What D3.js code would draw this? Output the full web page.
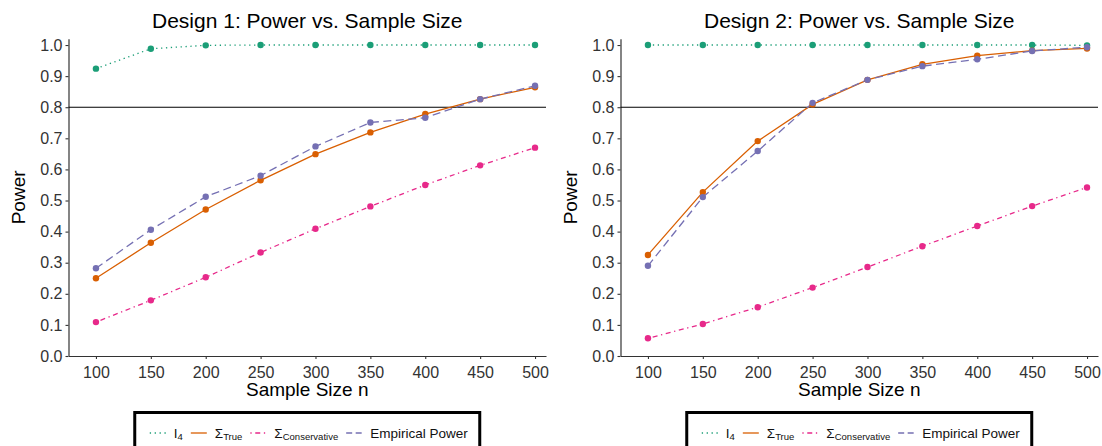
<!DOCTYPE html>
<html>
<head>
<meta charset="utf-8">
<script src="https://cdn.jsdelivr.net/npm/d3@7"></script>
<style>
  body { margin: 0; background: #fff; }
  svg { display: block; font-family: "Liberation Sans", Arial, sans-serif; }
</style>
</head>
<body>
<script>
// sample sizes on the x axis
var sampleSizes = [100, 150, 200, 250, 300, 350, 400, 450, 500];

// design 1
var d1I4 = [0.924, 0.988, 0.999, 1.0, 1.0, 1.0, 1.0, 1.0, 1.0];
var d1True = [0.250, 0.364, 0.471, 0.565, 0.649, 0.719, 0.778, 0.826, 0.864];
var d1Cons = [0.109, 0.179, 0.253, 0.333, 0.409, 0.481, 0.550, 0.613, 0.670];
var d1Emp = [0.282, 0.406, 0.512, 0.580, 0.674, 0.751, 0.766, 0.826, 0.869];

// design 2
var d2I4 = [1.0, 1.0, 1.0, 1.0, 1.0, 1.0, 1.0, 1.0, 0.999];
var d2True = [0.325, 0.527, 0.691, 0.809, 0.888, 0.938, 0.966, 0.982, 0.989];
var d2Cons = [0.057, 0.103, 0.157, 0.220, 0.286, 0.353, 0.418, 0.482, 0.542];
var d2Emp = [0.290, 0.511, 0.659, 0.814, 0.888, 0.932, 0.954, 0.981, 0.993];

var yTicks = [0.0, 0.1, 0.2, 0.3, 0.4, 0.5, 0.6, 0.7, 0.8, 0.9, 1.0];
var powerTarget = 0.8;

var titles = ["Design 1: Power vs. Sample Size", "Design 2: Power vs. Sample Size"];

// series styles (Dark2 colours)
var seriesInfo = [
    {key: "I4", color: "#1b9e77", dash: "1.3,3.6"},
    {key: "True", color: "#d95f02", dash: null},
    {key: "Cons", color: "#e7298a", dash: "1.3,3.6,5,3.6"},
    {key: "Emp", color: "#7570b3", dash: "8,4.5"}
];

var width = 1102, height = 446;

var svg = d3.select("body").append("svg")
    .attr("width", width)
    .attr("height", height);

var panels = [
    {left: 68.5, right: 546, data: [d1I4, d1True, d1Cons, d1Emp], title: titles[0]},
    {left: 620.5, right: 1098, data: [d2I4, d2True, d2Cons, d2Emp], title: titles[1]}
];

var plotTop = 38.8, plotBottom = 356;

panels.forEach(function(p) {
    var x = d3.scaleLinear().domain([75, 510]).range([p.left, p.right]);
    var y = d3.scaleLinear().domain([0, 1.02]).range([plotBottom, plotTop]);
    var mid = (p.left + p.right) / 2;

    var g = svg.append("g");

    // title
    g.append("text")
        .attr("x", mid)
        .attr("y", 28)
        .attr("text-anchor", "middle")
        .style("font-size", "21px")
        .style("fill", "#000")
        .text(p.title);

    // axes
    var xAxis = g.append("g")
        .attr("transform", "translate(0," + plotBottom + ")")
        .call(d3.axisBottom(x).tickValues(sampleSizes).tickSize(3).tickPadding(4).tickSizeOuter(0));
    var yAxis = g.append("g")
        .attr("transform", "translate(" + p.left + ",0)")
        .call(d3.axisLeft(y).tickValues(yTicks).tickFormat(d3.format(".1f")).tickSize(3).tickPadding(3).tickSizeOuter(0));

    [xAxis, yAxis].forEach(function(a) {
        a.select(".domain").attr("stroke", "#333").attr("stroke-width", 1.2);
        a.selectAll(".tick line").attr("stroke", "#333").attr("stroke-width", 1.1);
        a.selectAll(".tick text")
            .style("font-size", "16px")
            .style("font-family", "'Liberation Sans', Arial, sans-serif")
            .attr("fill", "#333");
    });
    xAxis.selectAll(".tick text").attr("dy", "0.95em");

    // axis titles
    g.append("text")
        .attr("x", mid)
        .attr("y", 396)
        .attr("text-anchor", "middle")
        .style("font-size", "19px")
        .text("Sample Size n");

    g.append("text")
        .attr("transform", "translate(" + (p.left - 44) + "," + ((plotTop + plotBottom) / 2) + ") rotate(-90)")
        .attr("text-anchor", "middle")
        .style("font-size", "19px")
        .text("Power");

    // reference line
    g.append("line")
        .attr("x1", p.left)
        .attr("x2", p.right)
        .attr("y1", y(powerTarget))
        .attr("y2", y(powerTarget))
        .attr("stroke", "#000")
        .attr("stroke-width", 1.1);

    var line = d3.line()
        .x(function(d, i) { return x(sampleSizes[i]); })
        .y(function(d) { return y(d); });

    // lines first, then points
    p.data.forEach(function(vals, s) {
        g.append("path")
            .datum(vals)
            .attr("d", line)
            .attr("fill", "none")
            .attr("stroke", seriesInfo[s].color)
            .attr("stroke-width", 1.3)
            .attr("stroke-dasharray", seriesInfo[s].dash);
    });
    p.data.forEach(function(vals, s) {
        g.selectAll(null)
            .data(vals)
            .enter()
            .append("circle")
            .attr("cx", function(d, i) { return x(sampleSizes[i]); })
            .attr("cy", function(d) { return y(d); })
            .attr("r", 3.2)
            .attr("fill", seriesInfo[s].color);
    });

    // legend
    var boxW = 345;
    var boxX = mid - boxW / 2;
    g.append("rect")
        .attr("x", boxX)
        .attr("y", 412.5)
        .attr("width", boxW)
        .attr("height", 60)
        .attr("fill", "#fff")
        .attr("stroke", "#000")
        .attr("stroke-width", 3);

    var leg = g.append("g").attr("transform", "translate(" + (boxX + 15) + ",0)");
    var cursor = 0, keyW = 16, keyY = 433, textY = 437.5;
    var labels = [
        {main: "I", sub: "4"},
        {main: "\u03a3", sub: "True"},
        {main: "\u03a3", sub: "Conservative"},
        {main: "Empirical Power", sub: null}
    ];
    labels.forEach(function(lab, s) {
        leg.append("line")
            .attr("x1", cursor)
            .attr("x2", cursor + keyW)
            .attr("y1", keyY)
            .attr("y2", keyY)
            .attr("stroke", seriesInfo[s].color)
            .attr("stroke-width", 1.3)
            .attr("stroke-dasharray", s == 3 ? "6,3.5" : seriesInfo[s].dash);
        cursor += keyW + 8;
        var t = leg.append("text")
            .attr("x", cursor)
            .attr("y", textY)
            .style("font-size", "13.5px")
            .style("fill", "#111");
        t.append("tspan").text(lab.main);
        if (lab.sub) {
            t.append("tspan")
                .attr("dy", 2.5)
                .style("font-size", "9.5px")
                .text(lab.sub);
        }
        cursor += t.node().getComputedTextLength() + 8;
    });
});
</script>
</body>
</html>
